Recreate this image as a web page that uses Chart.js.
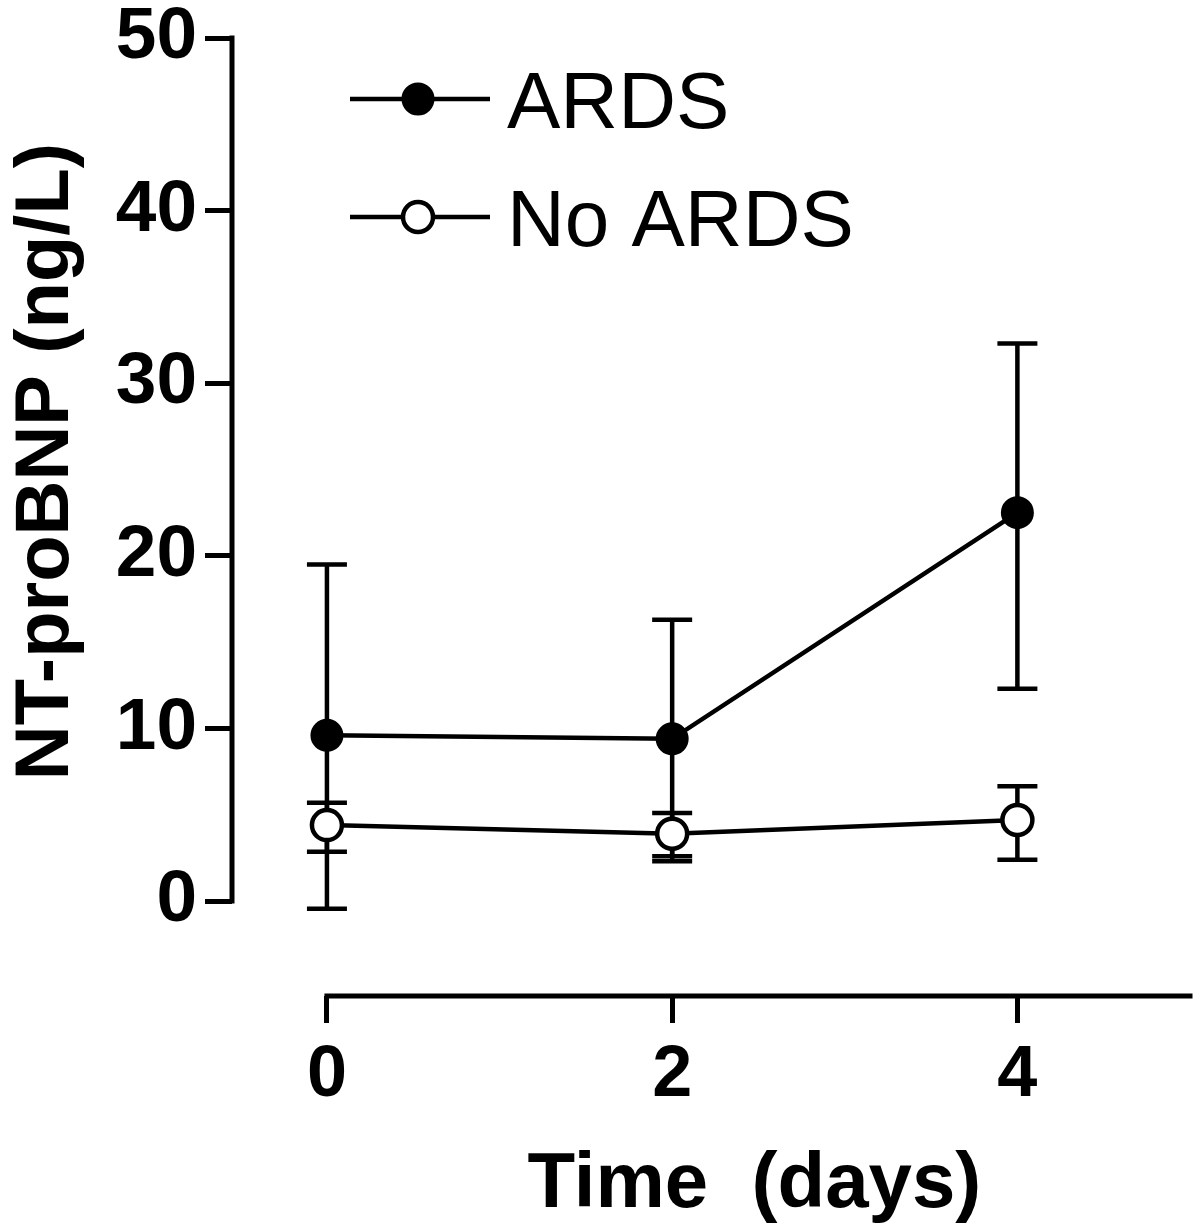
<!DOCTYPE html>
<html>
<head>
<meta charset="utf-8">
<title>NT-proBNP over time</title>
<script src="https://cdn.jsdelivr.net/npm/chart.js@4.4.1/dist/chart.umd.min.js"></script>
<style>
    body { margin: 0; background: #fff; }
    #wrap { width: 1200px; height: 1230px; position: relative; }
</style>
</head>
<body>
<div id="wrap"><canvas id="chart"></canvas></div>
<script>
// Time points (days) and tick labels
const days = [0, 2, 4];
const xTicks = [0, 2, 4];
const yTicks = [0, 10, 20, 30, 40, 50];

// ARDS group: mean and error bar ends (ng/L)
const ardsMean = [9.6, 9.4, 22.5];
const ardsLow = [-0.45, 2.6, 12.3];
const ardsHigh = [19.5, 16.3, 32.3];

// No ARDS group
const noArdsMean = [4.4, 3.9, 4.7];
const noArdsLow = [2.85, 2.3, 2.4];
const noArdsHigh = [5.7, 5.1, 6.65];

const FONT = "'Liberation Sans', Arial, Helvetica, sans-serif";

// Build points for a series
function toPoints(means) {
    return days.map((d, i) => ({ x: d, y: means[i] }));
}

// Error bars drawn under the markers
const errorBars = {
    id: 'errorBars',
    beforeDatasetsDraw(chart) {
        const ctx = chart.ctx;
        const xs = chart.scales.x, ys = chart.scales.y;
        ctx.save();
        ctx.strokeStyle = '#000';
        ctx.lineWidth = 4.5;
        chart.data.datasets.forEach(ds => {
            ds.errLow.forEach((lo, i) => {
                const px = xs.getPixelForValue(days[i]);
                const top = ys.getPixelForValue(ds.errHigh[i]);
                const bot = ys.getPixelForValue(lo);
                ctx.beginPath();
                ctx.moveTo(px, top); ctx.lineTo(px, bot);
                ctx.moveTo(px - 20, top); ctx.lineTo(px + 20, top);
                ctx.moveTo(px - 20, bot); ctx.lineTo(px + 20, bot);
                ctx.stroke();
            });
        });
        ctx.restore();
    }
};

// Axis lines, titles and legend
const decorations = {
    id: 'decorations',
    afterDraw(chart) {
        const ctx = chart.ctx;
        const xs = chart.scales.x, ys = chart.scales.y;
        const area = chart.chartArea;
        ctx.save();
        ctx.strokeStyle = '#000';
        ctx.fillStyle = '#000';
        ctx.lineWidth = 5;
        ctx.lineCap = 'square';

        // y axis line (0 to 50)
        ctx.beginPath();
        ctx.moveTo(area.left, ys.getPixelForValue(yTicks[yTicks.length - 1]));
        ctx.lineTo(area.left, ys.getPixelForValue(0));
        ctx.stroke();

        // x axis line (0 to 5)
        ctx.beginPath();
        ctx.moveTo(xs.getPixelForValue(0), area.bottom);
        ctx.lineTo(xs.getPixelForValue(xs.max), area.bottom);
        ctx.stroke();

        // x title, centred under the axis line
        ctx.font = 'bold 78px ' + FONT;
        ctx.textAlign = 'center';
        ctx.textBaseline = 'alphabetic';
        const xMid = (xs.getPixelForValue(0) + xs.getPixelForValue(xs.max)) / 2;
        ctx.fillText('Time  (days)', xMid - 4, 1207);

        // y title, rotated
        const yMid = (ys.getPixelForValue(0) + ys.getPixelForValue(50)) / 2 - 8;
        ctx.save();
        ctx.translate(68, yMid);
        ctx.rotate(-Math.PI / 2);
        ctx.font = 'bold 76px ' + FONT;
        ctx.fillText('NT-proBNP (ng/L)', 0, 0);
        ctx.restore();

        // legend
        const rows = [99, 217];
        ctx.font = '80px ' + FONT;
        ctx.textAlign = 'left';
        chart.data.datasets.forEach((ds, i) => {
            const y = rows[i];
            ctx.lineWidth = 4.5;
            ctx.lineCap = 'butt';
            ctx.beginPath();
            ctx.moveTo(350, y); ctx.lineTo(490, y);
            ctx.stroke();
            ctx.beginPath();
            ctx.arc(418, y, ds.pointRadius, 0, Math.PI * 2);
            ctx.fillStyle = ds.pointBackgroundColor;
            ctx.fill();
            ctx.lineWidth = ds.pointBorderWidth;
            ctx.stroke();
            ctx.fillStyle = '#000';
            ctx.fillText(ds.label, 507, y + 29);
        });
        ctx.restore();
    }
};

new Chart(document.getElementById('chart'), {
    type: 'line',
    data: {
        datasets: [
            {
                label: 'ARDS',
                data: toPoints(ardsMean),
                errLow: ardsLow,
                errHigh: ardsHigh,
                borderColor: '#000',
                borderWidth: 4.5,
                pointRadius: 15,
                pointBorderWidth: 3,
                pointBackgroundColor: '#000',
                pointBorderColor: '#000',
                order: 1,
                clip: false
            },
            {
                label: 'No ARDS',
                data: toPoints(noArdsMean),
                errLow: noArdsLow,
                errHigh: noArdsHigh,
                borderColor: '#000',
                borderWidth: 4.5,
                pointRadius: 15,
                pointBorderWidth: 4.5,
                pointBackgroundColor: '#fff',
                pointBorderColor: '#000',
                order: 0,
                clip: false
            }
        ]
    },
    options: {
        responsive: true,
        maintainAspectRatio: false,
        animation: false,
        layout: { autoPadding: false, padding: { top: 38, right: 10, bottom: 0, left: 0 } },
        plugins: {
            legend: { display: false },
            tooltip: { enabled: false },
            title: { display: false }
        },
        scales: {
            x: {
                type: 'linear',
                min: -0.55,
                max: 5,
                border: { display: false },
                grid: { drawOnChartArea: false, drawTicks: true, tickLength: 27, lineWidth: 5, color: '#000' },
                afterBuildTicks: scale => { scale.ticks = xTicks.map(v => ({ value: v })); },
                afterFit: scale => {
                    scale.height = 234;
                    scale.paddingLeft = 0;
                    scale.paddingRight = 0;
                },
                ticks: {
                    color: '#000',
                    padding: 10,
                    maxRotation: 0,
                    font: { family: FONT, size: 72, weight: 'bold' }
                }
            },
            y: {
                min: -5.5,
                max: 50,
                border: { display: false },
                grid: { drawOnChartArea: false, drawTicks: true, tickLength: 27, lineWidth: 5, color: '#000' },
                afterBuildTicks: scale => { scale.ticks = yTicks.map(v => ({ value: v })); },
                afterFit: scale => { scale.width = 232; },
                ticks: {
                    color: '#000',
                    padding: 8,
                    font: { family: FONT, size: 73, weight: 'bold', lineHeight: 0.8 }
                }
            }
        }
    },
    plugins: [errorBars, decorations]
});
</script>
</body>
</html>
